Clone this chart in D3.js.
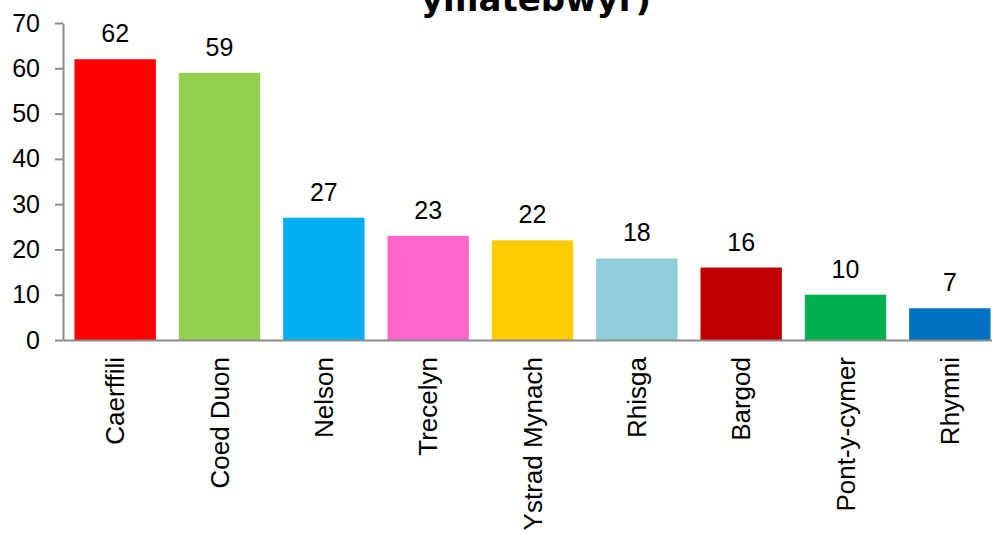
<!DOCTYPE html>
<html>
<head>
<meta charset="utf-8">
<script src="https://cdn.jsdelivr.net/npm/d3@7"></script>
<style>
  html, body { margin: 0; padding: 0; background: #fff; overflow: hidden; }
  svg { display: block; }
</style>
</head>
<body>
<svg id="chart" width="992" height="534"></svg>
<script>
const titleLine = "ymatebwyr)";
const categories = ["Caerffili", "Coed Duon", "Nelson", "Trecelyn", "Ystrad Mynach", "Rhisga", "Bargod", "Pont-y-cymer", "Rhymni"];
const values = [62, 59, 27, 23, 22, 18, 16, 10, 7];
const colors = ["#FF0000", "#92D050", "#00B0F0", "#FF66CC", "#FFCC00", "#92CDDC", "#C00000", "#00B050", "#0070C0"];
const yTicks = [0, 10, 20, 30, 40, 50, 60, 70];

const svg = d3.select("#chart");
const mLeft = 63, mRight = 1002, mTop = 23, mBottom = 340;
const axisColor = "#8c8c8c";
const fontFam = "'Liberation Sans', Arial, sans-serif";

const x = d3.scaleBand().domain(categories).range([mLeft, mRight]).paddingInner(0.22).paddingOuter(0.11);
const y = d3.scaleLinear().domain([0, 70]).range([mBottom, mTop]);

// title (partially cut off at top)
svg.append("text")
  .attr("x", 536).attr("y", 11)
  .attr("text-anchor", "middle")
  .attr("font-family", "'DejaVu Sans', sans-serif")
  .attr("font-weight", "bold")
  .attr("font-size", 34)
  .attr("fill", "#000")
  .text(titleLine);

// bars
svg.append("g").selectAll("rect")
  .data(categories)
  .join("rect")
  .attr("x", d => x(d))
  .attr("width", x.bandwidth())
  .attr("y", (d, i) => y(values[i]))
  .attr("height", (d, i) => y(0) - y(values[i]))
  .attr("fill", (d, i) => colors[i]);

// value labels
svg.append("g").selectAll("text")
  .data(categories)
  .join("text")
  .attr("x", d => x(d) + x.bandwidth() / 2)
  .attr("y", (d, i) => y(values[i]) - 17)
  .attr("text-anchor", "middle")
  .attr("font-family", fontFam)
  .attr("font-size", 25)
  .attr("fill", "#000")
  .text((d, i) => values[i]);

// y axis
const yAxis = d3.axisLeft(y).tickValues(yTicks).tickSize(8).tickPadding(15).tickSizeOuter(0);
const gy = svg.append("g").attr("transform", `translate(${mLeft},0)`).call(yAxis);
gy.select(".domain").attr("stroke", axisColor).attr("stroke-width", 2);
gy.selectAll(".tick line").attr("stroke", axisColor).attr("stroke-width", 2);
gy.selectAll(".tick text").attr("font-family", fontFam).attr("font-size", 25).attr("fill", "#000");

// x axis
const xAxis = d3.axisBottom(x).tickSize(0).tickSizeOuter(0).tickPadding(0);
const gx = svg.append("g").attr("transform", `translate(0,${mBottom})`).call(xAxis);
gx.select(".domain").attr("stroke", axisColor).attr("stroke-width", 2);
gx.selectAll(".tick text")
  .attr("font-family", fontFam)
  .attr("font-size", 26)
  .attr("fill", "#000")
  .attr("text-anchor", "end")
  .attr("transform", "rotate(-90)")
  .attr("x", -17)
  .attr("y", 0)
  .attr("dy", "0.35em");
</script>
</body>
</html>
